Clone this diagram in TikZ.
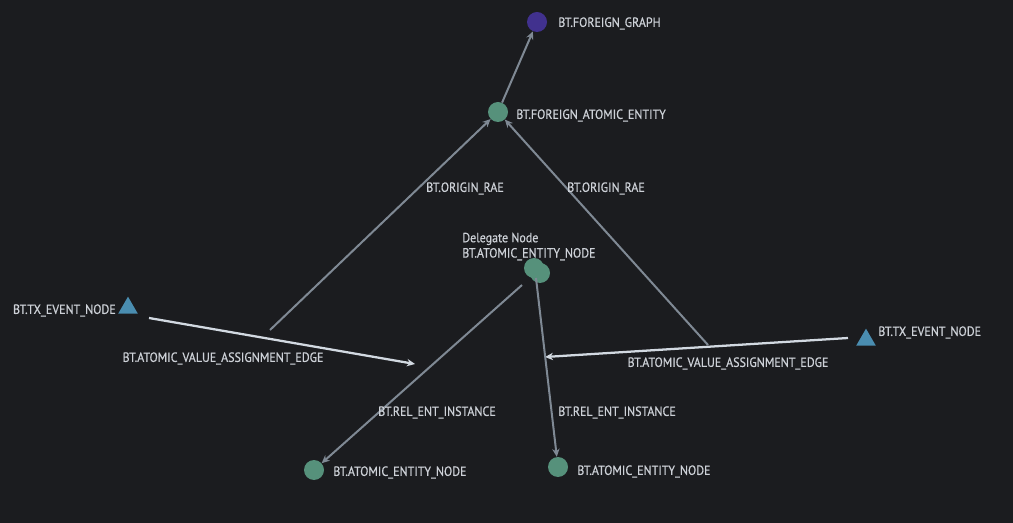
\documentclass[tikz,border=0pt]{standalone}
\usepackage{fontspec}
\setmainfont{PT Sans}[FakeStretch=0.9,FakeBold=0.6]
\usetikzlibrary{shapes.geometric,arrows.meta}
\definecolor{bg}{HTML}{1B1C1F}
\definecolor{edgegrey}{HTML}{7F8994}
\definecolor{edgelight}{HTML}{D2D9E1}
\definecolor{txt}{HTML}{CDD1D7}
\definecolor{entgreen}{HTML}{56917B}
\definecolor{graphpurple}{HTML}{41318E}
\definecolor{evblue}{HTML}{4A8DB0}
\tikzset{
  ent/.style={circle,fill=entgreen,inner sep=0pt,minimum size=15pt},
  graphnode/.style={circle,fill=graphpurple,inner sep=0pt,minimum size=15pt},
  evnode/.style={regular polygon,regular polygon sides=3,fill=evblue,inner sep=0pt,minimum size=17pt},
  lbl/.style={text=txt,font=\fontsize{10}{11.5}\selectfont,inner sep=0pt},
  greyedge/.style={draw=edgegrey,line width=1.5pt,-{Stealth[length=6pt,width=5.5pt]}},
  lightedge/.style={draw=edgelight,line width=1.7pt,-{Stealth[length=6pt,width=5.5pt]}},
}
\begin{document}
\begin{tikzpicture}[x=0.75pt,y=-0.75pt]
\fill[bg] (0,0) rectangle (1013,523);
\useasboundingbox (0,0) rectangle (1013,523);
% nodes
\node[graphnode] (fg) at (537,22) {};
\node[lbl,anchor=west] (fgl) at (558,23.5) {BT.FOREIGN\_GRAPH};
\node[ent] (fae) at (498,112) {};
\node[lbl,anchor=west] (fael) at (516,115.5) {BT.FOREIGN\_ATOMIC\_ENTITY};
\node[ent] (del2) at (540,273) {};
\node[ent] (del) at (534,268) {};
\node[lbl,anchor=west,align=left] (dell) at (462,246.5) {Delegate Node\\BT.ATOMIC\_ENTITY\_NODE};
\node[evnode] (evL) at (128,308) {};
\node[lbl,anchor=east] (evLl) at (116,310.5) {BT.TX\_EVENT\_NODE};
\node[evnode] (evR) at (866,340) {};
\node[lbl,anchor=west] (evRl) at (878,332.5) {BT.TX\_EVENT\_NODE};
\node[ent] (aeL) at (314,470) {};
\node[lbl,anchor=west] (aeLl) at (333,472.5) {BT.ATOMIC\_ENTITY\_NODE};
\node[ent] (aeR) at (558,467) {};
\node[lbl,anchor=west] (aeRl) at (577,471.5) {BT.ATOMIC\_ENTITY\_NODE};
% coordinates for free ends
\coordinate (aL) at (415,364);
\coordinate (aR) at (545,357);
\coordinate (mL) at (270,330);
\coordinate (mR) at (708,345);
% edges
\draw[greyedge] (fae) -- (fg);
\draw[lightedge] (evL) ++(21,10) coordinate (sL) (sL) -- (aL);
\draw[lightedge] (evR) ++(-18,-2) coordinate (sR) (sR) -- (aR);
\draw[greyedge] (mL) -- (fae);
\draw[greyedge] (mR) -- (fae);
\draw[greyedge] (del) ++(-12,17) coordinate (dA) (dA) -- (aeL);
\draw[greyedge] (del) ++(2,10) coordinate (dB) (dB) -- (aeR);
% edge labels
\node[lbl] (avL) at (223,358.5) {BT.ATOMIC\_VALUE\_ASSIGNMENT\_EDGE};
\node[lbl] (avR) at (728,363.5) {BT.ATOMIC\_VALUE\_ASSIGNMENT\_EDGE};
\node[lbl] (orL) at (465,188.5) {BT.ORIGIN\_RAE};
\node[lbl] (orR) at (606,188.5) {BT.ORIGIN\_RAE};
\node[lbl] (reL) at (437,412.5) {BT.REL\_ENT\_INSTANCE};
\node[lbl] (reR) at (617,412.5) {BT.REL\_ENT\_INSTANCE};
\end{tikzpicture}
\end{document}
